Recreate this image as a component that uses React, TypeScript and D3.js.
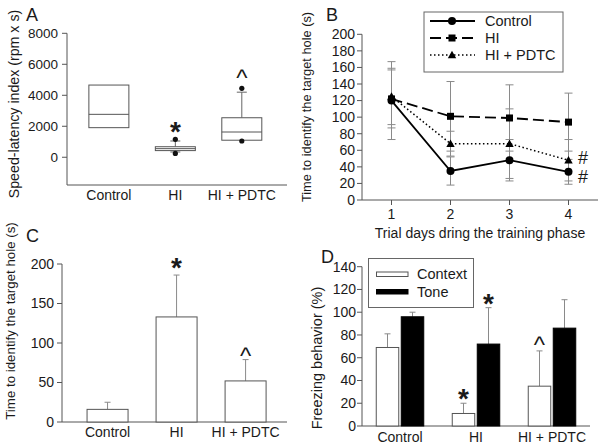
import React from "react";
import * as d3 from "d3";

// ---------- Data ----------
const groups = ["Control", "HI", "HI + PDTC"];

// Panel A: box plot stats (speed-latency index)
const boxQ1 = [1910, 430, 1100];
const boxMedian = [2770, 555, 1630];
const boxQ3 = [4660, 680, 2550];
const whiskerLow = [1910, 340, 1100];
const whiskerHigh = [4660, 1050, 4200];
const outliers = [[], [1160, 250], [4450, 1050]];
const markA = ["", "*", "^"];

// Panel B: time across trial days
const days = [1, 2, 3, 4];
const controlMeans = [120, 35, 48, 34];
const controlSE = [47, 17, 25, 15];
const hiMeans = [122, 101, 99, 94];
const hiSE = [35, 42, 40, 35];
const pdtcMeans = [125, 68, 68, 48];
const pdtcSE = [34, 15, 42, 25];
const seriesNames = ["Control", "HI", "HI + PDTC"];

// Panel C: probe trial time
const cMeans = [16, 133, 52];
const cErr = [9, 53, 27];
const markC = ["", "*", "^"];

// Panel D: freezing behaviour
const contextMeans = [69, 11, 35];
const contextErr = [12, 9, 31];
const toneMeans = [96, 72, 86];
const toneErr = [4, 32, 25];
const markContext = ["", "*", "^"];
const markTone = ["", "*", ""];

const yTicksA = [0, 2000, 4000, 6000, 8000];
const yTicksB = d3.range(0, 201, 20);
const yTicksC = [0, 50, 100, 150, 200];
const yTicksD = d3.range(0, 141, 20);

const FONT = "'Liberation Sans', Arial, sans-serif";
const AX = "#555";
const ERR = "#8a8a8a";
const TXT = "#1a1a1a";

function Mark({ x, y, m }: { x: number; y: number; m: string }) {
  if (!m) return null;
  if (m === "*")
    return (
      <text x={x} y={y + 16} fontSize={28} fontWeight="bold" textAnchor="middle" fill={TXT} fontFamily={FONT}>
        *
      </text>
    );
  return (
    <text x={x} y={y + 12.6} fontSize={24} textAnchor="middle" fill={TXT} fontFamily={FONT}>
      ^
    </text>
  );
}

function YAxis({ scale, ticks, x, fs, labelX }: any) {
  const [r0, r1] = scale.range();
  return (
    <g>
      <line x1={x} x2={x} y1={r0} y2={r1} stroke={AX} />
      {ticks.map((t: number) => (
        <g key={t}>
          <line x1={x - 5} x2={x} y1={scale(t)} y2={scale(t)} stroke={AX} />
          <text x={labelX} y={scale(t)} dy="0.35em" textAnchor="end" fontSize={fs} fill={TXT} fontFamily={FONT}>
            {t}
          </text>
        </g>
      ))}
    </g>
  );
}

function YTitle({ x, y, text, fs }: any) {
  return (
    <text transform={`translate(${x},${y}) rotate(-90)`} textAnchor="middle" dy="0.35em" fontSize={fs} fill={TXT} fontFamily={FONT}>
      {text}
    </text>
  );
}

function PanelA() {
  const y = d3.scaleLinear().domain([-1790, 8000]).range([185, 33.3]);
  const x = d3.scaleLinear().domain([0.37, 3.68]).range([67, 287]);
  const bw = 40;
  return (
    <g>
      <text x={26} y={21} fontSize={18} fill={TXT} fontFamily={FONT}>A</text>
      <YTitle x={14} y={104} text="Speed-latency index (rpm x s)" fs={14.2} />
      <YAxis scale={y} ticks={yTicksA} x={67} fs={13.5} labelX={58} />
      <line x1={67} x2={287} y1={185} y2={185} stroke={AX} />
      {groups.map((g, i) => {
        const cx = x(i + 1);
        return (
          <g key={g}>
            <line x1={cx} x2={cx} y1={y(whiskerHigh[i])} y2={y(boxQ3[i])} stroke="#666" />
            <line x1={cx} x2={cx} y1={y(whiskerLow[i])} y2={y(boxQ1[i])} stroke="#666" />
            {whiskerHigh[i] > boxQ3[i] && (
              <line x1={cx - 5} x2={cx + 5} y1={y(whiskerHigh[i])} y2={y(whiskerHigh[i])} stroke="#666" />
            )}
            {whiskerLow[i] < boxQ1[i] && (
              <line x1={cx - 5} x2={cx + 5} y1={y(whiskerLow[i])} y2={y(whiskerLow[i])} stroke="#666" />
            )}
            <rect x={cx - bw / 2} y={y(boxQ3[i])} width={bw} height={y(boxQ1[i]) - y(boxQ3[i])} fill="#fff" stroke="#555" />
            <line x1={cx - bw / 2} x2={cx + bw / 2} y1={y(boxMedian[i])} y2={y(boxMedian[i])} stroke="#555" />
            {outliers[i].map((o, k) => (
              <circle key={k} cx={cx} cy={y(o)} r={2.6} fill="#111" />
            ))}
            <text x={cx} y={195} dy="0.35em" textAnchor="middle" fontSize={14} fill={TXT} fontFamily={FONT}>
              {g}
            </text>
          </g>
        );
      })}
      <Mark x={x(2)} y={125} m={markA[1]} />
      <Mark x={x(3)} y={73} m={markA[2]} />
    </g>
  );
}

function Marker({ type, x, y }: any) {
  if (type === 0) return <circle cx={x} cy={y} r={4} fill="#000" />;
  if (type === 1) return <rect x={x - 3.5} y={y - 3.5} width={7} height={7} fill="#000" />;
  const s = 4.2;
  return <path d={`M${x},${y - s}L${x + s},${y + s * 0.8}L${x - s},${y + s * 0.8}Z`} fill="#000" />;
}

function PanelB() {
  const y = d3.scaleLinear().domain([0, 200]).range([200, 34.3]);
  const x = d3.scaleLinear().domain([0.5, 4.5]).range([362, 598]);
  const series = [
    { means: controlMeans, se: controlSE, dash: "", w: 1.8 },
    { means: hiMeans, se: hiSE, dash: "11,5", w: 1.8 },
    { means: pdtcMeans, se: pdtcSE, dash: "1.5,2.5", w: 1.5 },
  ];
  const line = (m: number[]) =>
    d3.line<number>().x((_, i) => x(days[i])).y((v) => y(v))(m) as string;
  return (
    <g>
      <text x={326} y={21} fontSize={18} fill={TXT} fontFamily={FONT}>B</text>
      <YTitle x={307} y={107} text="Time to identify the target hole (s)" fs={12.8} />
      <YAxis scale={y} ticks={yTicksB} x={362} fs={14} labelX={355} />
      <line x1={362} x2={598} y1={200} y2={200} stroke={AX} />
      {days.map((d) => (
        <g key={d}>
          <line x1={x(d)} x2={x(d)} y1={200} y2={205} stroke={AX} />
          <text x={x(d)} y={214} dy="0.35em" textAnchor="middle" fontSize={14} fill={TXT} fontFamily={FONT}>
            {d}
          </text>
        </g>
      ))}
      <text x={480} y={233} dy="0.35em" textAnchor="middle" fontSize={14} fill={TXT} fontFamily={FONT}>
        Trial days dring the training phase
      </text>
      {series.map((s, si) =>
        days.map((d, i) => (
          <g key={`${si}-${i}`}>
            <line x1={x(d)} x2={x(d)} y1={y(s.means[i] - s.se[i])} y2={y(s.means[i] + s.se[i])} stroke={ERR} />
            <line x1={x(d) - 4} x2={x(d) + 4} y1={y(s.means[i] + s.se[i])} y2={y(s.means[i] + s.se[i])} stroke={ERR} />
            <line x1={x(d) - 4} x2={x(d) + 4} y1={y(s.means[i] - s.se[i])} y2={y(s.means[i] - s.se[i])} stroke={ERR} />
          </g>
        ))
      )}
      {series.map((s, si) => (
        <g key={si}>
          <path d={line(s.means)} fill="none" stroke="#000" strokeWidth={s.w} strokeDasharray={s.dash} />
          {s.means.map((v, i) => (
            <Marker key={i} type={si} x={x(days[i])} y={y(v)} />
          ))}
        </g>
      ))}
      <text x={583} y={158} dy="0.35em" textAnchor="middle" fontSize={18} fill={TXT} fontFamily={FONT}>#</text>
      <text x={583} y={177} dy="0.35em" textAnchor="middle" fontSize={18} fill={TXT} fontFamily={FONT}>#</text>
      <rect x={424} y={12} width={139} height={60} fill="#fff" stroke="#666" />
      {seriesNames.map((n, i) => {
        const ly = 21 + i * 17;
        const s = series[i];
        return (
          <g key={n}>
            <line x1={430} x2={475} y1={ly} y2={ly} stroke="#000" strokeWidth={s.w} strokeDasharray={s.dash} />
            <Marker type={i} x={452} y={ly} />
            <text x={485} y={ly} dy="0.35em" fontSize={14.5} fill={TXT} fontFamily={FONT}>{n}</text>
          </g>
        );
      })}
    </g>
  );
}

function PanelC() {
  const y = d3.scaleLinear().domain([0, 200]).range([422, 264]);
  const x = d3.scaleLinear().domain([0.34, 3.6]).range([62, 287]);
  const bw = 41;
  const markOffset = [0, 14, 8];
  return (
    <g>
      <text x={26} y={242} fontSize={18} fill={TXT} fontFamily={FONT}>C</text>
      <YTitle x={10} y={321} text="Time to identify the target hole (s)" fs={13.3} />
      <YAxis scale={y} ticks={yTicksC} x={62} fs={14} labelX={54} />
      <line x1={62} x2={287} y1={422} y2={422} stroke={AX} />
      {groups.map((g, i) => {
        const cx = x(i + 1);
        const top = y(cMeans[i] + cErr[i]);
        return (
          <g key={g}>
            <line x1={cx} x2={cx} y1={y(cMeans[i])} y2={top} stroke={ERR} />
            <line x1={cx - 3} x2={cx + 3} y1={top} y2={top} stroke={ERR} />
            <rect x={cx - bw / 2} y={y(cMeans[i])} width={bw} height={422 - y(cMeans[i])} fill="#fff" stroke="#555" />
            <text x={cx} y={432} dy="0.35em" textAnchor="middle" fontSize={14} fill={TXT} fontFamily={FONT}>{g}</text>
            <Mark x={cx} y={top - markOffset[i]} m={markC[i]} />
          </g>
        );
      })}
    </g>
  );
}

function PanelD() {
  const y = d3.scaleLinear().domain([0, 140]).range([426, 266.7]);
  const x = d3.scaleBand().domain(groups).range([362, 590]).padding(0);
  const bw = 22.5;
  const gap = 2.5;
  return (
    <g>
      <text x={321} y={263} fontSize={18} fill={TXT} fontFamily={FONT}>D</text>
      <YTitle x={317} y={358} text="Freezing behavior (%)" fs={14.5} />
      <YAxis scale={y} ticks={yTicksD} x={362} fs={14} labelX={356} />
      <line x1={362} x2={590} y1={426} y2={426} stroke={AX} />
      {groups.map((g, i) => {
        const c = (x(g) as number) + x.bandwidth() / 2;
        const cxC = c - gap / 2 - bw / 2;
        const cxT = c + gap / 2 + bw / 2;
        const topC = y(contextMeans[i] + contextErr[i]);
        const topT = y(toneMeans[i] + toneErr[i]);
        return (
          <g key={g}>
            <line x1={cxC} x2={cxC} y1={y(contextMeans[i])} y2={topC} stroke={ERR} />
            <line x1={cxC - 3} x2={cxC + 3} y1={topC} y2={topC} stroke={ERR} />
            <line x1={cxT} x2={cxT} y1={y(toneMeans[i])} y2={topT} stroke={ERR} />
            <line x1={cxT - 3} x2={cxT + 3} y1={topT} y2={topT} stroke={ERR} />
            <rect x={cxC - bw / 2} y={y(contextMeans[i])} width={bw} height={426 - y(contextMeans[i])} fill="#fff" stroke="#555" />
            <rect x={cxT - bw / 2} y={y(toneMeans[i])} width={bw} height={426 - y(toneMeans[i])} fill="#000" stroke="#000" />
            <text x={c} y={437} dy="0.35em" textAnchor="middle" fontSize={14} fill={TXT} fontFamily={FONT}>{g}</text>
            <Mark x={cxC} y={topC - 11} m={markContext[i]} />
            <Mark x={cxT} y={topT - 11} m={markTone[i]} />
          </g>
        );
      })}
      <rect x={368.5} y={258.5} width={105} height={49} fill="#fff" stroke="#666" />
      <rect x={376.5} y={272} width={31.5} height={4.5} fill="#fff" stroke="#555" />
      <rect x={376.5} y={289.5} width={31.5} height={4.5} fill="#000" stroke="#000" />
      <text x={417} y={274} dy="0.35em" fontSize={14.5} fill={TXT} fontFamily={FONT}>Context</text>
      <text x={417} y={291.5} dy="0.35em" fontSize={14.5} fill={TXT} fontFamily={FONT}>Tone</text>
    </g>
  );
}

export default function App() {
  return (
    <svg width={604} height={447} style={{ position: "absolute", left: 0, top: 0, background: "#fff" }}>
      <rect width={604} height={447} fill="#fff" />
      <PanelA />
      <PanelB />
      <PanelC />
      <PanelD />
    </svg>
  );
}
